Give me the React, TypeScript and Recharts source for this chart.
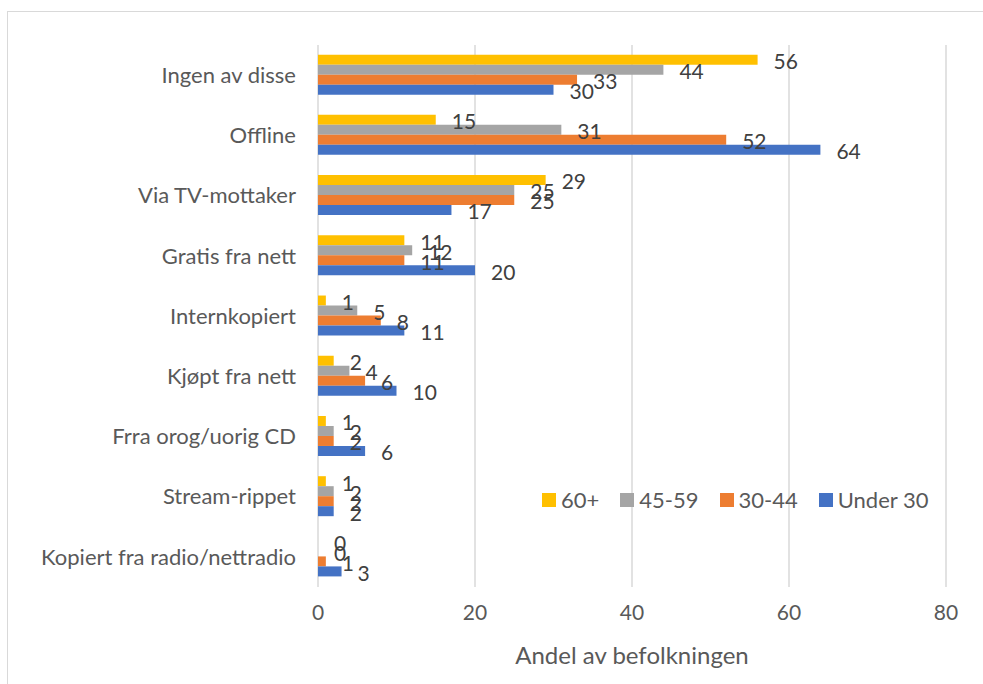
import React from 'react';
import { BarChart, Bar, XAxis, YAxis, CartesianGrid, Legend } from 'recharts';

const categories = [
  'Ingen av disse',
  'Offline',
  'Via TV-mottaker',
  'Gratis fra nett',
  'Internkopiert',
  'Kjøpt fra nett',
  'Frra orog/uorig CD',
  'Stream-rippet',
  'Kopiert fra radio/nettradio',
];
const age60plus = [56, 15, 29, 11, 1, 2, 1, 1, 0];
const age45to59 = [44, 31, 25, 12, 5, 4, 2, 2, 0];
const age30to44 = [33, 52, 25, 11, 8, 6, 2, 2, 1];
const under30 = [30, 64, 17, 20, 11, 10, 6, 2, 3];
const xTicks = [0, 20, 40, 60, 80];

const seriesInfo = [
  { key: 'a60', name: '60+', color: '#FFC000' },
  { key: 'a45', name: '45-59', color: '#A5A5A5' },
  { key: 'a30', name: '30-44', color: '#ED7D31' },
  { key: 'u30', name: 'Under 30', color: '#4472C4' },
];

const data = categories.map((name, i) => ({
  name,
  a60: age60plus[i],
  a45: age45to59[i],
  a30: age30to44[i],
  u30: under30[i],
}));

const FONT = 'Lato, "Noto Sans", sans-serif';

const renderValue = (props: any) => {
  const { x, y, width, height, value } = props;
  return (
    <text
      x={Number(x) + Number(width) + 16}
      y={Number(y) + Number(height) / 2 + 2}
      dy="0.35em"
      fill="#404040"
      fontSize={21}
      fontFamily={FONT}
    >
      {value}
    </text>
  );
};

const renderLegend = () => (
  <div style={{ display: 'flex', alignItems: 'center', fontFamily: FONT, fontSize: 22, color: '#595959' }}>
    {seriesInfo.map((s) => (
      <div key={s.key} style={{ display: 'flex', alignItems: 'center', marginRight: 21 }}>
        <span style={{ width: 14, height: 14, background: s.color, display: 'inline-block', marginRight: 5 }} />
        <span>{s.name}</span>
      </div>
    ))}
  </div>
);

export default function App() {
  return (
    <div style={{ position: 'absolute', left: 0, top: 0, width: 983, height: 684, background: '#fff', overflow: 'hidden' }}>
      <div style={{ position: 'absolute', left: 7, top: 11, width: 1000, height: 700, border: '1px solid #d9d9d9' }} />
      <BarChart
        width={983}
        height={684}
        data={data}
        layout="vertical"
        margin={{ top: 45, right: 37, bottom: 0, left: 18 }}
        barCategoryGap="16%"
        barGap={0}
        style={{ position: 'absolute', left: 0, top: 0 }}
      >
        <CartesianGrid horizontal={false} stroke="#d9d9d9" strokeWidth={1.5} />
        <XAxis
          type="number"
          domain={[0, 80]}
          ticks={xTicks}
          axisLine={false}
          tickLine={false}
          tickSize={0}
          tickMargin={18}
          height={97}
          tick={{ fill: '#595959', fontSize: 21, fontFamily: FONT }}
          label={{ value: 'Andel av befolkningen', position: 'insideBottom', offset: 20, fill: '#595959', fontSize: 24, fontFamily: FONT }}
        />
        <YAxis
          type="category"
          dataKey="name"
          width={300}
          axisLine={false}
          tickLine={false}
          tickSize={0}
          tickMargin={22}
          interval={0}
          tick={{ fill: '#595959', fontSize: 22, fontFamily: FONT }}
        />
        <Legend
          layout="horizontal"
          verticalAlign="middle"
          align="center"
          content={renderLegend}
          wrapperStyle={{ position: 'absolute', left: 542, top: 486, width: 440 }}
        />
        {seriesInfo.map((s) => (
          <Bar
            key={s.key}
            dataKey={s.key}
            name={s.name}
            fill={s.color}
            minPointSize={0.01}
            isAnimationActive={false}
            label={renderValue}
          />
        ))}
      </BarChart>
    </div>
  );
}
